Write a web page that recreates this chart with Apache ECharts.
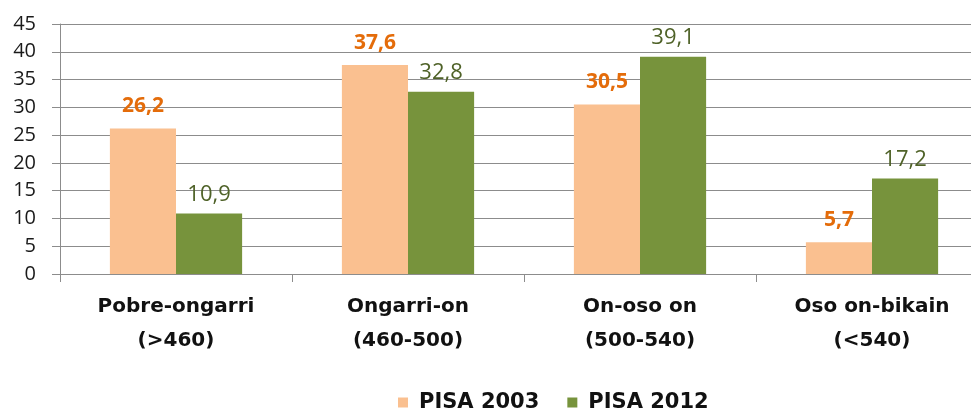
<!DOCTYPE html>
<html>
<head>
<meta charset="utf-8">
<script src="https://cdn.jsdelivr.net/npm/echarts@6/dist/echarts.min.js"></script>
<style>
  html, body { margin: 0; padding: 0; background: #fff; }
  #chart { width: 971px; height: 410px; }
</style>
</head>
<body>
<div id="chart"></div>
<script>
// categories and values
var categories = ['Pobre-ongarri\n(>460)', 'Ongarri-on\n(460-500)', 'On-oso on\n(500-540)', 'Oso on-bikain\n(<540)'];
var pisa2003 = [26.2, 37.6, 30.5, 5.7];
var pisa2012 = [10.9, 32.8, 39.1, 17.2];
var seriesNames = ['PISA 2003', 'PISA 2012'];

var chart = echarts.init(document.getElementById('chart'));

function fmt(p) {
  return String(p.value).replace('.', ',');
}

chart.setOption({
  animation: false,
  textStyle: { fontFamily: 'Open Sans' },
  legend: {
    top: 387,
    left: 393,
    itemWidth: 10,
    itemHeight: 10,
    itemGap: 28,
    icon: 'rect',
    textStyle: { fontSize: 21, fontWeight: 'bold', color: '#111', fontFamily: 'DejaVu Sans', padding: [0, 0, 0, 6] },
    data: seriesNames
  },
  grid: {
    left: 60,
    top: 24,
    width: 928,
    height: 250,
    outerBoundsMode: 'none'
  },
  xAxis: {
    type: 'category',
    data: categories,
    axisLine: { lineStyle: { color: '#8c8c8c', width: 1 } },
    axisTick: { show: true, length: 8, lineStyle: { color: '#8c8c8c' } },
    axisLabel: {
      interval: 0,
      margin: 16,
      lineHeight: 34,
      fontSize: 20,
      fontWeight: 'bold',
      color: '#111',
      fontFamily: 'DejaVu Sans'
    }
  },
  yAxis: {
    type: 'value',
    min: 0,
    max: 45,
    interval: 5,
    axisLine: { show: true, lineStyle: { color: '#8c8c8c' } },
    axisTick: { show: true, length: 8, lineStyle: { color: '#8c8c8c' } },
    splitLine: { lineStyle: { color: '#8c8c8c', width: 1 } },
    axisLabel: { fontSize: 20, color: '#1a1a1a', margin: 24, fontFamily: 'Open Sans' }
  },
  series: [{
    name: seriesNames[0],
    type: 'bar',
    data: pisa2003,
    barGap: '0%',
    barCategoryGap: '43%',
    itemStyle: { color: '#FAC090' },
    label: {
      show: true,
      position: 'top',
      distance: 12,
      formatter: fmt,
      fontSize: 21,
      fontWeight: 'bold',
      color: '#E46C0A',
      fontFamily: 'Open Sans'
    }
  }, {
    name: seriesNames[1],
    type: 'bar',
    data: pisa2012,
    itemStyle: { color: '#77933C' },
    label: {
      show: true,
      position: 'top',
      distance: 8,
      formatter: fmt,
      fontSize: 22,
      color: '#4F6228',
      fontFamily: 'Open Sans'
    }
  }]
});
</script>
</body>
</html>
